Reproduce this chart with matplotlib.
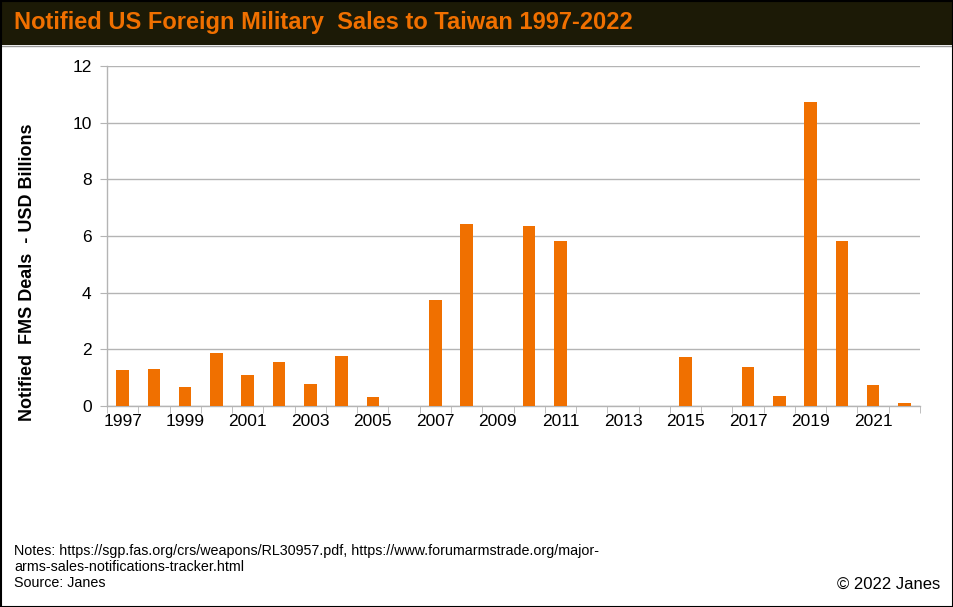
import matplotlib.pyplot as plt
import numpy as np
from matplotlib.patches import Rectangle

# Notified FMS deals per year (USD billions)
years = list(range(1997, 2023))
values = [1.27, 1.31, 0.66, 1.86, 1.09, 1.54, 0.78, 1.78, 0.31, 0.0,
          3.73, 6.44, 0.0, 6.35, 5.84, 0.0, 0.0, 0.0, 1.74, 0.0,
          1.38, 0.34, 10.72, 5.84, 0.74, 0.09]
yticks = [0, 2, 4, 6, 8, 10, 12]

orange = '#f07000'
grid_col = '#b4b4b4'
sans = ['Liberation Sans', 'DejaVu Sans']

fig = plt.figure(figsize=(9.54, 6.07), dpi=100)
fig.patch.set_facecolor('white')

# dark header band with title
fig.patches.append(Rectangle((0, 1 - 45 / 607), 1, 45 / 607, transform=fig.transFigure,
                             facecolor='#1c1a06', edgecolor='none', zorder=0))
fig.lines.append(plt.Line2D([0, 1], [1 - 45.5 / 607] * 2, transform=fig.transFigure,
                            color='#9a9a9a', lw=1))
fig.text(14 / 954, 1 - 22 / 607, 'Notified US Foreign Military  Sales to Taiwan 1997-2022',
         color=orange, fontsize=17, fontweight='bold', family=sans,
         ha='left', va='center')

# outer border
fig.patches.append(Rectangle((0.5 / 954, 0.5 / 607), 953 / 954, 606 / 607,
                             transform=fig.transFigure, fill=False,
                             edgecolor='black', lw=1.5, zorder=10))

ax = fig.add_axes([107 / 954, 1 - 406 / 607, 813 / 954, 340 / 607])
x = np.arange(len(years))
ax.bar(x, values, width=0.4, color=orange, zorder=3)

ax.set_xlim(-0.5, len(years) - 0.5)
ax.set_ylim(0, 12)
ax.set_yticks(yticks)
ax.yaxis.grid(True, color=grid_col, lw=1)
ax.set_axisbelow(True)

# labels every other year, tick marks on category boundaries
ax.set_xticks(x[::2])
ax.set_xticklabels([str(y) for y in years[::2]])
ax.set_xticks(np.arange(-0.5, len(years), 1), minor=True)
ax.tick_params(axis='x', which='major', length=0, pad=6)
ax.tick_params(axis='x', which='minor', length=5, color=grid_col, direction='out')
ax.tick_params(axis='y', length=5, color=grid_col, direction='out', pad=6)

for lab in ax.get_xticklabels() + ax.get_yticklabels():
    lab.set_family(sans)
    lab.set_fontsize(12.5)

for s in ['top', 'right']:
    ax.spines[s].set_visible(False)
for s in ['left', 'bottom']:
    ax.spines[s].set_color(grid_col)
    ax.spines[s].set_linewidth(1)

fig.text(28 / 954, 1 - 272 / 607, 'Notified  FMS Deals  - USD Billions', rotation=90,
         fontsize=13, fontweight='bold', family=sans,
         ha='center', va='center')

fig.text(14 / 954, 1 - 551 / 607,
         'Notes: https://sgp.fas.org/crs/weapons/RL30957.pdf, https://www.forumarmstrade.org/major-',
         fontsize=10.3, family=sans, ha='left', va='center')
fig.text(14 / 954, 1 - 567 / 607, 'arms-sales-notifications-tracker.html',
         fontsize=10.3, family=sans, ha='left', va='center')
fig.text(14 / 954, 1 - 583 / 607, 'Source: Janes',
         fontsize=10.3, family=sans, ha='left', va='center')
fig.text(940 / 954, 1 - 584 / 607, '© 2022 Janes',
         fontsize=12, family=sans, ha='right', va='center')

fig.savefig('out.png', dpi=100)
